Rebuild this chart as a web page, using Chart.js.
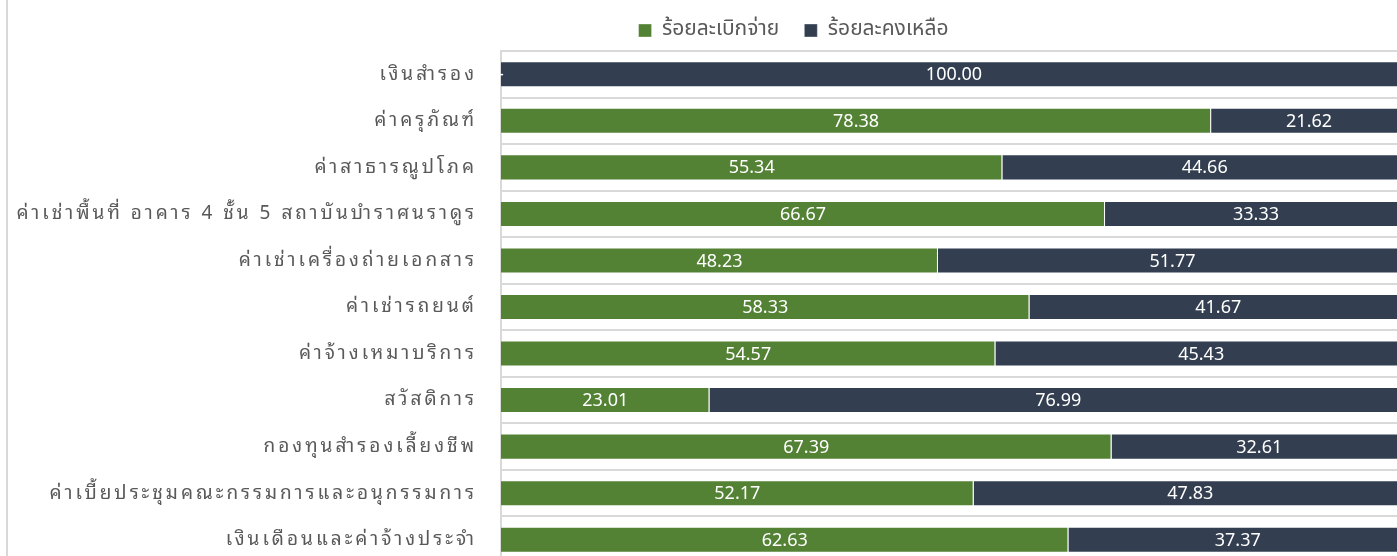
<!DOCTYPE html>
<html>
<head>
<meta charset="utf-8">
<script src="https://cdn.jsdelivr.net/npm/chart.js@4/dist/chart.umd.min.js"></script>
<style>
  html, body { margin: 0; padding: 0; background: #ffffff; overflow: hidden; width: 1397px; height: 556px; }
  #c { position: absolute; left: 0; top: 0; }
  #edge { position: absolute; left: 6px; top: 0; width: 2px; height: 556px; background: #d9d9d9; }
</style>
</head>
<body>
<canvas id="c" width="1587" height="566"></canvas>
<div id="edge"></div>
<script>
const categories = [
  'เงินสำรอง',
  'ค่าครุภัณฑ์',
  'ค่าสาธารณูปโภค',
  'ค่าเช่าพื้นที่ อาคาร 4 ชั้น 5 สถาบันบำราศนราดูร',
  'ค่าเช่าเครื่องถ่ายเอกสาร',
  'ค่าเช่ารถยนต์',
  'ค่าจ้างเหมาบริการ',
  'สวัสดิการ',
  'กองทุนสำรองเลี้ยงชีพ',
  'ค่าเบี้ยประชุมคณะกรรมการและอนุกรรมการ',
  'เงินเดือนและค่าจ้างประจำ'
];
const disbursedPct = [0, 78.38, 55.34, 66.67, 48.23, 58.33, 54.57, 23.01, 67.39, 52.17, 62.63];
const remainingPct = [100, 21.62, 44.66, 33.33, 51.77, 41.67, 45.43, 76.99, 32.61, 47.83, 37.37];
const seriesNames = ['ร้อยละเบิกจ่าย', 'ร้อยละคงเหลือ'];

const LABEL_FONT = "'Noto Sans Thai Looped', 'Noto Sans Thai', sans-serif";
const LEGEND_FONT = "'Noto Sans Thai', 'Noto Sans Thai Looped', sans-serif";

const valueLabels = {
  id: 'valueLabels',
  afterDatasetsDraw(chart) {
    const ctx = chart.ctx;
    ctx.save();
    ctx.font = "18px 'Noto Sans', sans-serif";
    ctx.fillStyle = '#ffffff';
    ctx.textAlign = 'center';
    ctx.textBaseline = 'middle';
    chart.data.datasets.forEach((ds, di) => {
      const meta = chart.getDatasetMeta(di);
      meta.data.forEach((bar, i) => {
        const v = ds.data[i];
        const txt = v === 0 ? '-' : v.toFixed(2);
        const cx = (bar.x + bar.base) / 2;
        ctx.fillText(txt, cx, bar.y + 1);
      });
    });
    ctx.restore();
    // category labels (drawn after the bars) get Excel-like character spacing
    ctx.letterSpacing = '3px';
  },
  afterDraw(chart) {
    chart.ctx.letterSpacing = '0px';
  }
};

new Chart(document.getElementById('c'), {
  type: 'bar',
  data: {
    labels: categories,
    datasets: [
      { label: seriesNames[0], data: disbursedPct, backgroundColor: '#548235', borderColor: 'rgba(255,255,255,0.35)', borderWidth: 1, categoryPercentage: 1, barPercentage: 0.56 },
      { label: seriesNames[1], data: remainingPct, backgroundColor: '#333f50', borderColor: 'rgba(255,255,255,0.35)', borderWidth: 1, categoryPercentage: 1, barPercentage: 0.56 }
    ]
  },
  options: {
    indexAxis: 'y',
    responsive: false,
    animation: false,
    layout: { padding: { left: 0, right: 0, top: -5, bottom: 3 } },
    plugins: {
      legend: {
        position: 'top',
        align: 'center',
        labels: {
          font: { family: LEGEND_FONT, size: 21 },
          color: '#595959',
          boxWidth: 13,
          boxHeight: 13,
          padding: 25
        }
      },
      tooltip: { enabled: false }
    },
    scales: {
      x: { stacked: true, min: 0, max: 100, display: false },
      y: {
        stacked: true,
        afterFit(scale) { scale.width = 501; scale.paddingTop = 0; scale.paddingBottom = 0; },
        grid: { color: '#d9d9d9', lineWidth: 2, drawTicks: true, tickLength: 24, tickColor: 'rgba(0,0,0,0)', offset: true },
        border: { color: '#d9d9d9', width: 2 },
        ticks: { z: 1, padding: 0, color: '#595959', font: { family: LABEL_FONT, size: 19 }, autoSkip: false }
      },
      yr: {
        position: 'right',
        display: true,
        afterFit(scale) { scale.width = 180; scale.paddingTop = 0; scale.paddingBottom = 0; },
        grid: { display: false, drawTicks: false },
        border: { display: false },
        ticks: { display: false }
      }
    }
  },
  plugins: [valueLabels]
});
</script>
</body>
</html>
